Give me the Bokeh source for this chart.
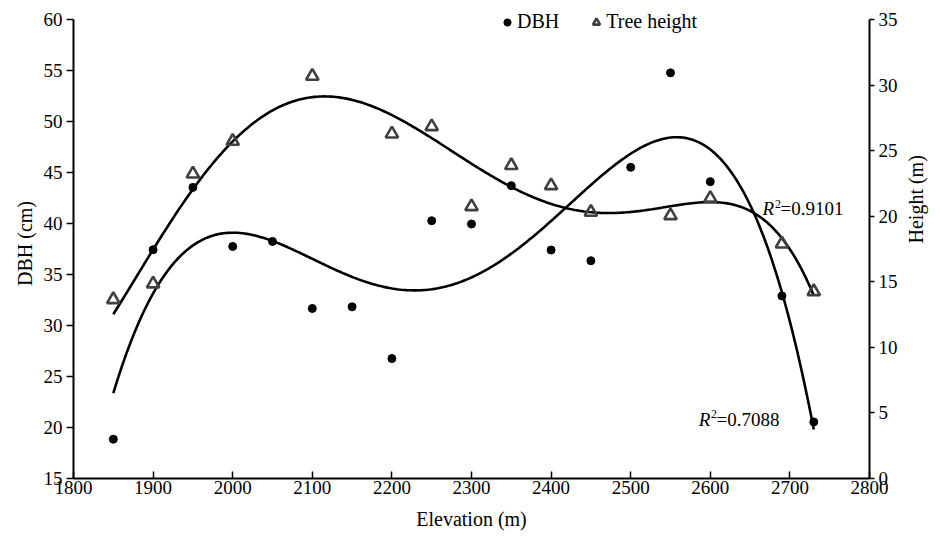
import math
import numpy as np
from bokeh.plotting import figure
from bokeh.models import (Range1d, LinearAxis, SingleIntervalTicker, Legend, LegendItem, Label)
from bokeh.embed import file_html
from bokeh.resources import INLINE

# ---------------- data ----------------
elev_dbh = [1850, 1900, 1950, 2000, 2050, 2100, 2150, 2200, 2250, 2300, 2350,
            2400, 2450, 2500, 2550, 2600, 2690, 2730]
dbh = [18.85, 37.43, 43.54, 37.75, 38.24, 31.67, 31.83, 26.76, 40.27, 39.95, 43.71,
       37.4, 36.35, 45.51, 54.77, 44.1, 32.9, 20.55]

elev_h = [1850, 1900, 1950, 2000, 2100, 2200, 2250, 2300, 2350, 2400, 2450,
          2550, 2600, 2690, 2730]
height = [13.65, 14.85, 23.23, 25.72, 30.68, 26.28, 26.84, 20.74, 23.87, 22.34, 20.31,
          20.05, 21.37, 17.89, 14.26]

# polynomial trend-line orders (as in the original chart)
order_dbh = 4
order_h = 5
r2_h = "0.9101"
r2_d = "0.7088"

dbh_axis = (15, 60)
h_axis = (0, 35)
x_axis = (1800, 2800)
x_ticks_interval = 100
y_ticks_interval = 5
FONT = "Liberation Serif"

# layout: the frame is extended a few pixels above the axes' top so that the
# legend (which sits slightly above the top tick) is not clipped
AXIS_PX = 459            # pixel height of the 15..60 span
EXTRA_TOP_PX = 11


def trend(xs, ys, order, n=300):
    xs = np.asarray(xs, float)
    ys = np.asarray(ys, float)
    t = (xs - xs.mean()) / (xs.max() - xs.min())
    c = np.polyfit(t, ys, order)
    gx = np.linspace(xs.min(), xs.max(), n)
    gy = np.polyval(c, (gx - xs.mean()) / (xs.max() - xs.min()))
    return gx, gy


d_top = dbh_axis[1] + EXTRA_TOP_PX * (dbh_axis[1] - dbh_axis[0]) / AXIS_PX
h_top = h_axis[1] + EXTRA_TOP_PX * (h_axis[1] - h_axis[0]) / AXIS_PX

p = figure(width=940, height=536, output_backend="svg", toolbar_location=None,
           x_range=Range1d(*x_axis), y_range=Range1d(dbh_axis[0], d_top),
           min_border_left=73, min_border_right=66, min_border_top=19 - EXTRA_TOP_PX,
           min_border_bottom=58)
p.extra_y_ranges = {"h": Range1d(h_axis[0], h_top)}
p.outline_line_color = None
p.xgrid.visible = False
p.ygrid.visible = False

# trend lines
hx, hy = trend(elev_h, height, order_h)
dx, dy = trend(elev_dbh, dbh, order_dbh)
p.line(hx, hy, y_range_name="h", line_color="black", line_width=2.6)
p.line(dx, dy, line_color="black", line_width=2.6)

# points
r_dbh = p.scatter(elev_dbh, dbh, marker="circle", size=8, fill_color="black", line_color="black")
r_h = p.scatter(elev_h, height, y_range_name="h", marker="triangle", size=12.5,
                fill_color=None, line_color="#404040", line_width=2.6)


def style_axis(ax):
    ax.axis_line_color = "black"
    ax.axis_line_width = 2
    ax.major_tick_line_color = "black"
    ax.major_tick_line_width = 1.5
    ax.minor_tick_line_color = None
    ax.major_label_text_font = FONT
    ax.major_label_text_font_size = "19px"
    ax.major_label_text_color = "black"
    ax.axis_label_text_font = FONT
    ax.axis_label_text_font_size = "20px"
    ax.axis_label_text_font_style = "normal"
    ax.axis_label_text_color = "black"


xa = p.xaxis[0]
xa.ticker = SingleIntervalTicker(interval=x_ticks_interval, num_minor_ticks=0)
xa.axis_label = "Elevation (m)"
style_axis(xa)
xa.major_tick_in = 7
xa.major_tick_out = 0
xa.major_label_standoff = 2
xa.axis_label_standoff = 11

ya = p.yaxis[0]
ya.ticker = SingleIntervalTicker(interval=y_ticks_interval, num_minor_ticks=0)
ya.bounds = dbh_axis
ya.axis_label = "DBH (cm)"
style_axis(ya)
ya.major_tick_in = 0
ya.major_tick_out = 7
ya.major_label_standoff = 4
ya.axis_label_standoff = 5

ra = LinearAxis(y_range_name="h", ticker=SingleIntervalTicker(interval=y_ticks_interval, num_minor_ticks=0),
                axis_label="Height (m)")
ra.bounds = h_axis
style_axis(ra)
ra.major_tick_in = 0
ra.major_tick_out = 5
ra.major_label_standoff = 4
ra.axis_label_standoff = 15
try:
    ra.axis_label_orientation = math.pi / 2
except Exception:
    pass
p.add_layout(ra, "right")

# legend
legend = Legend(items=[LegendItem(label="DBH", renderers=[r_dbh]),
                       LegendItem(label="Tree height", renderers=[r_h])],
                orientation="horizontal", location=(425, 445),
                glyph_width=18, glyph_height=18, label_standoff=1, spacing=28,
                padding=0, margin=0, border_line_color=None, background_fill_alpha=0,
                label_text_font=FONT, label_text_font_size="20px", label_text_color="black")
p.add_layout(legend, "center")


# R^2 labels
def r2_label(xr, xs, xe, yb, ys, txt):
    p.add_layout(Label(x=xr, y=yb, text="R", text_font=FONT, text_font_size="19px",
                       text_font_style="italic", text_color="black", text_baseline="alphabetic"))
    p.add_layout(Label(x=xs, y=ys, text="2", text_font=FONT, text_font_size="12px",
                       text_color="black", text_baseline="alphabetic"))
    p.add_layout(Label(x=xe, y=yb, text="=" + txt, text_font=FONT, text_font_size="19px",
                       text_color="black", text_baseline="alphabetic"))


r2_label(2665.7, 2681.4, 2688.1, 41.45, 41.91, r2_h)
r2_label(2585.6, 2601.0, 2607.7, 20.81, 21.31, r2_d)

open("out.html", "w").write(file_html(p, INLINE))
